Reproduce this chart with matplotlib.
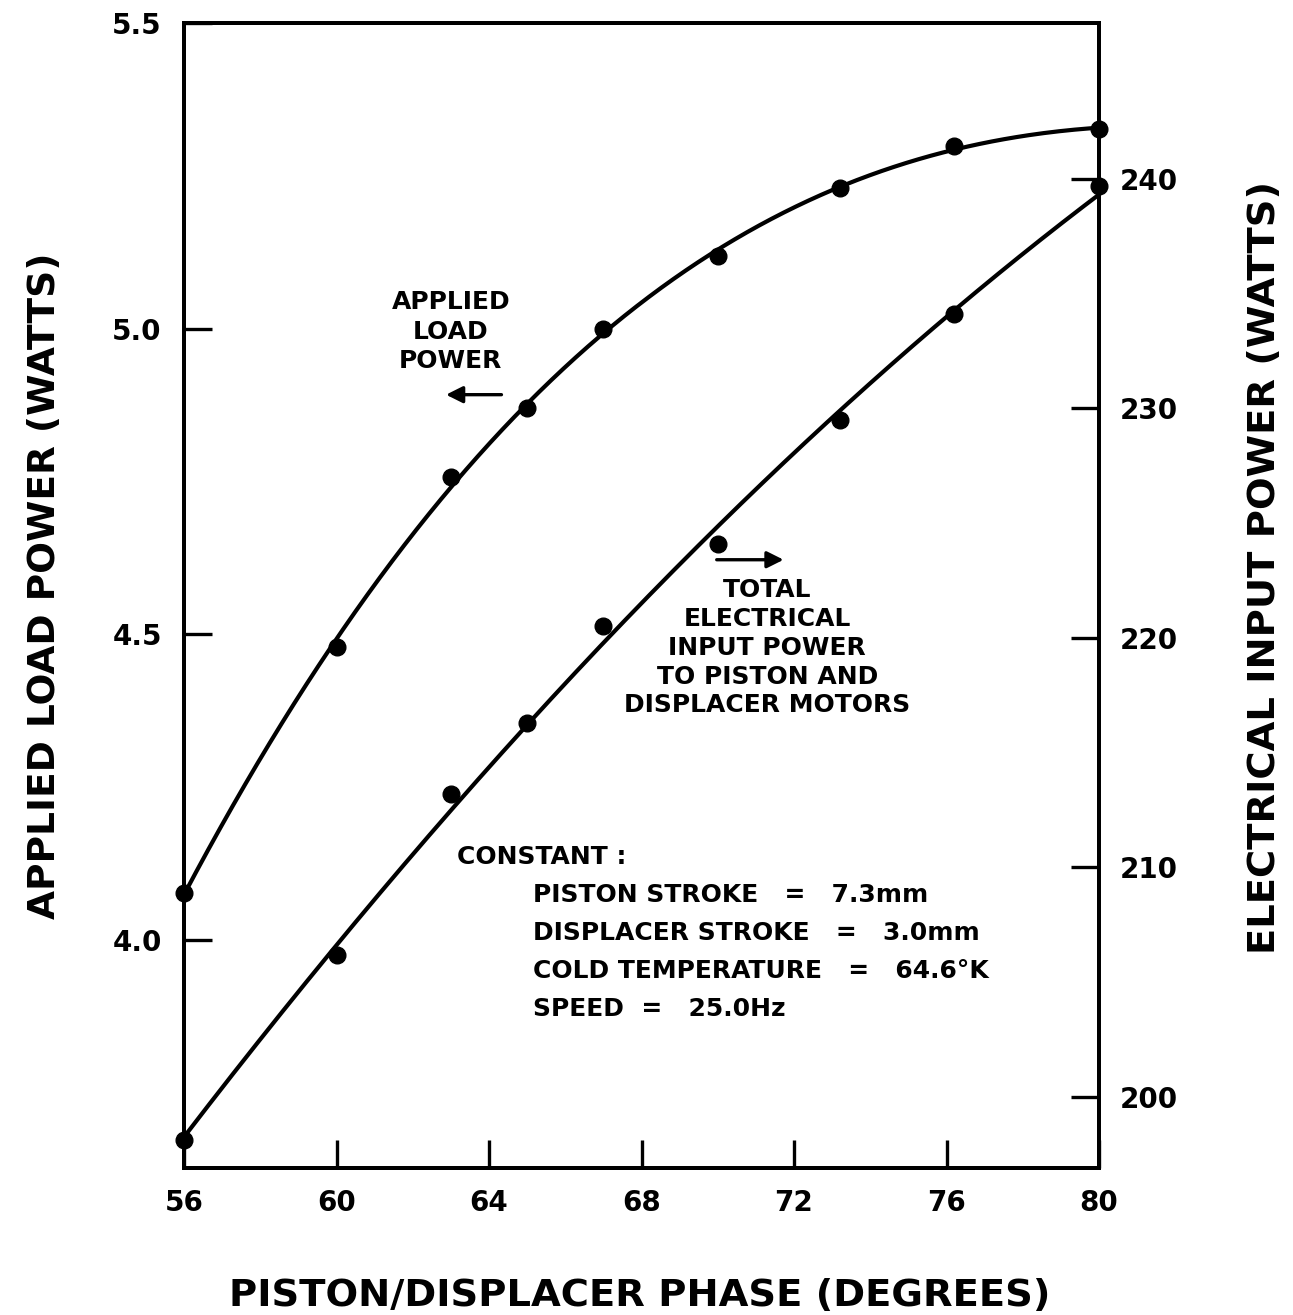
import numpy as np
import matplotlib.pyplot as plt

# piston/displacer phase (degrees)
phase = [56, 60, 63, 65, 67, 70, 73.2, 76.2, 80]
# applied load power, left axis (watts)
load_power = [4.077, 4.479, 4.757, 4.871, 5.000, 5.119, 5.230, 5.299, 5.327]
# total electrical input power, right axis (watts)
input_power = [198.1, 206.2, 213.2, 216.3, 220.5, 224.1, 229.5, 234.1, 239.7]

x_ticks = [56, 60, 64, 68, 72, 76, 80]
left_ticks = [4.0, 4.5, 5.0, 5.5]
right_ticks = [200, 210, 220, 230, 240]

plt.rcParams['font.family'] = ['DejaVu Sans']
plt.rcParams['font.weight'] = 'bold'

fig = plt.figure(figsize=(12.93, 13.15), dpi=100)
ax = fig.add_axes([184 / 1293, 1 - 1168 / 1315, (1099 - 184) / 1293, (1168 - 23) / 1315])
ax2 = ax.twinx()

# smooth fitted curves through the measured points
xs = np.linspace(56, 80, 300)
fit_load = np.polyfit(phase, load_power, 3)
fit_input = np.polyfit(phase, input_power, 2)

ax.plot(xs, np.polyval(fit_load, xs), color='black', lw=3.0)
ax.plot(phase, load_power, 'o', color='black', ms=12, clip_on=False)
ax2.plot(xs, np.polyval(fit_input, xs), color='black', lw=3.0)
ax2.plot(phase, input_power, 'o', color='black', ms=12, clip_on=False)

ax.set_xlim(56, 80)
ax.set_ylim(3.627, 5.5)
ax2.set_ylim(196.9, 246.8)

ax.set_xticks(x_ticks)
ax.set_xticklabels([str(t) for t in x_ticks])
ax.set_yticks(left_ticks)
ax.set_yticklabels([f'{t:.1f}' for t in left_ticks])
ax2.set_yticks(right_ticks)
ax2.set_yticklabels([str(t) for t in right_ticks])

for a in (ax, ax2):
    for s in a.spines.values():
        s.set_linewidth(2.8)
    a.tick_params(direction='in', length=20, width=2.4, labelsize=20, pad=16)
ax.tick_params(axis='x', pad=15)
ax2.tick_params(axis='y', pad=15)

# annotations
ax.text(63.0, 4.995, 'APPLIED\nLOAD\nPOWER', ha='center', va='center',
        fontsize=18, fontweight='bold', linespacing=1.3)
ax.annotate('', xy=(62.8, 4.892), xytext=(64.4, 4.892),
            arrowprops=dict(arrowstyle='-|>', color='black', lw=2.4,
                            mutation_scale=25))
ax.annotate('', xy=(71.8, 4.622), xytext=(69.9, 4.622),
            arrowprops=dict(arrowstyle='-|>', color='black', lw=2.4,
                            mutation_scale=25))
ax.text(71.3, 4.478, 'TOTAL\nELECTRICAL\nINPUT POWER\nTO PISTON AND\nDISPLACER MOTORS',
        ha='center', va='center', fontsize=18, fontweight='bold', linespacing=1.25)

ax.text(63.16, 4.136, 'CONSTANT :', ha='left', va='center', fontsize=18, fontweight='bold')
consts = ['PISTON STROKE   =   7.3mm', 'DISPLACER STROKE   =   3.0mm',
          'COLD TEMPERATURE   =   64.6°K', 'SPEED  =   25.0Hz']
for i, line in enumerate(consts):
    ax.text(65.15, 4.074 - i * 0.0625, line, ha='left', va='center',
            fontsize=18, fontweight='bold')

fig.text(640 / 1293, 1 - 1296 / 1315, 'PISTON/DISPLACER PHASE (DEGREES)',
         ha='center', va='center', fontsize=27.7, fontweight='bold')
fig.text(45 / 1293, 1 - 586 / 1315, 'APPLIED LOAD POWER (WATTS)', rotation=90,
         ha='center', va='center', fontsize=27, fontweight='bold')
fig.text(1265 / 1293, 1 - 567 / 1315, 'ELECTRICAL INPUT POWER (WATTS)', rotation=90,
         ha='center', va='center', fontsize=27.7, fontweight='bold')

fig.savefig('out.png', dpi=100)
